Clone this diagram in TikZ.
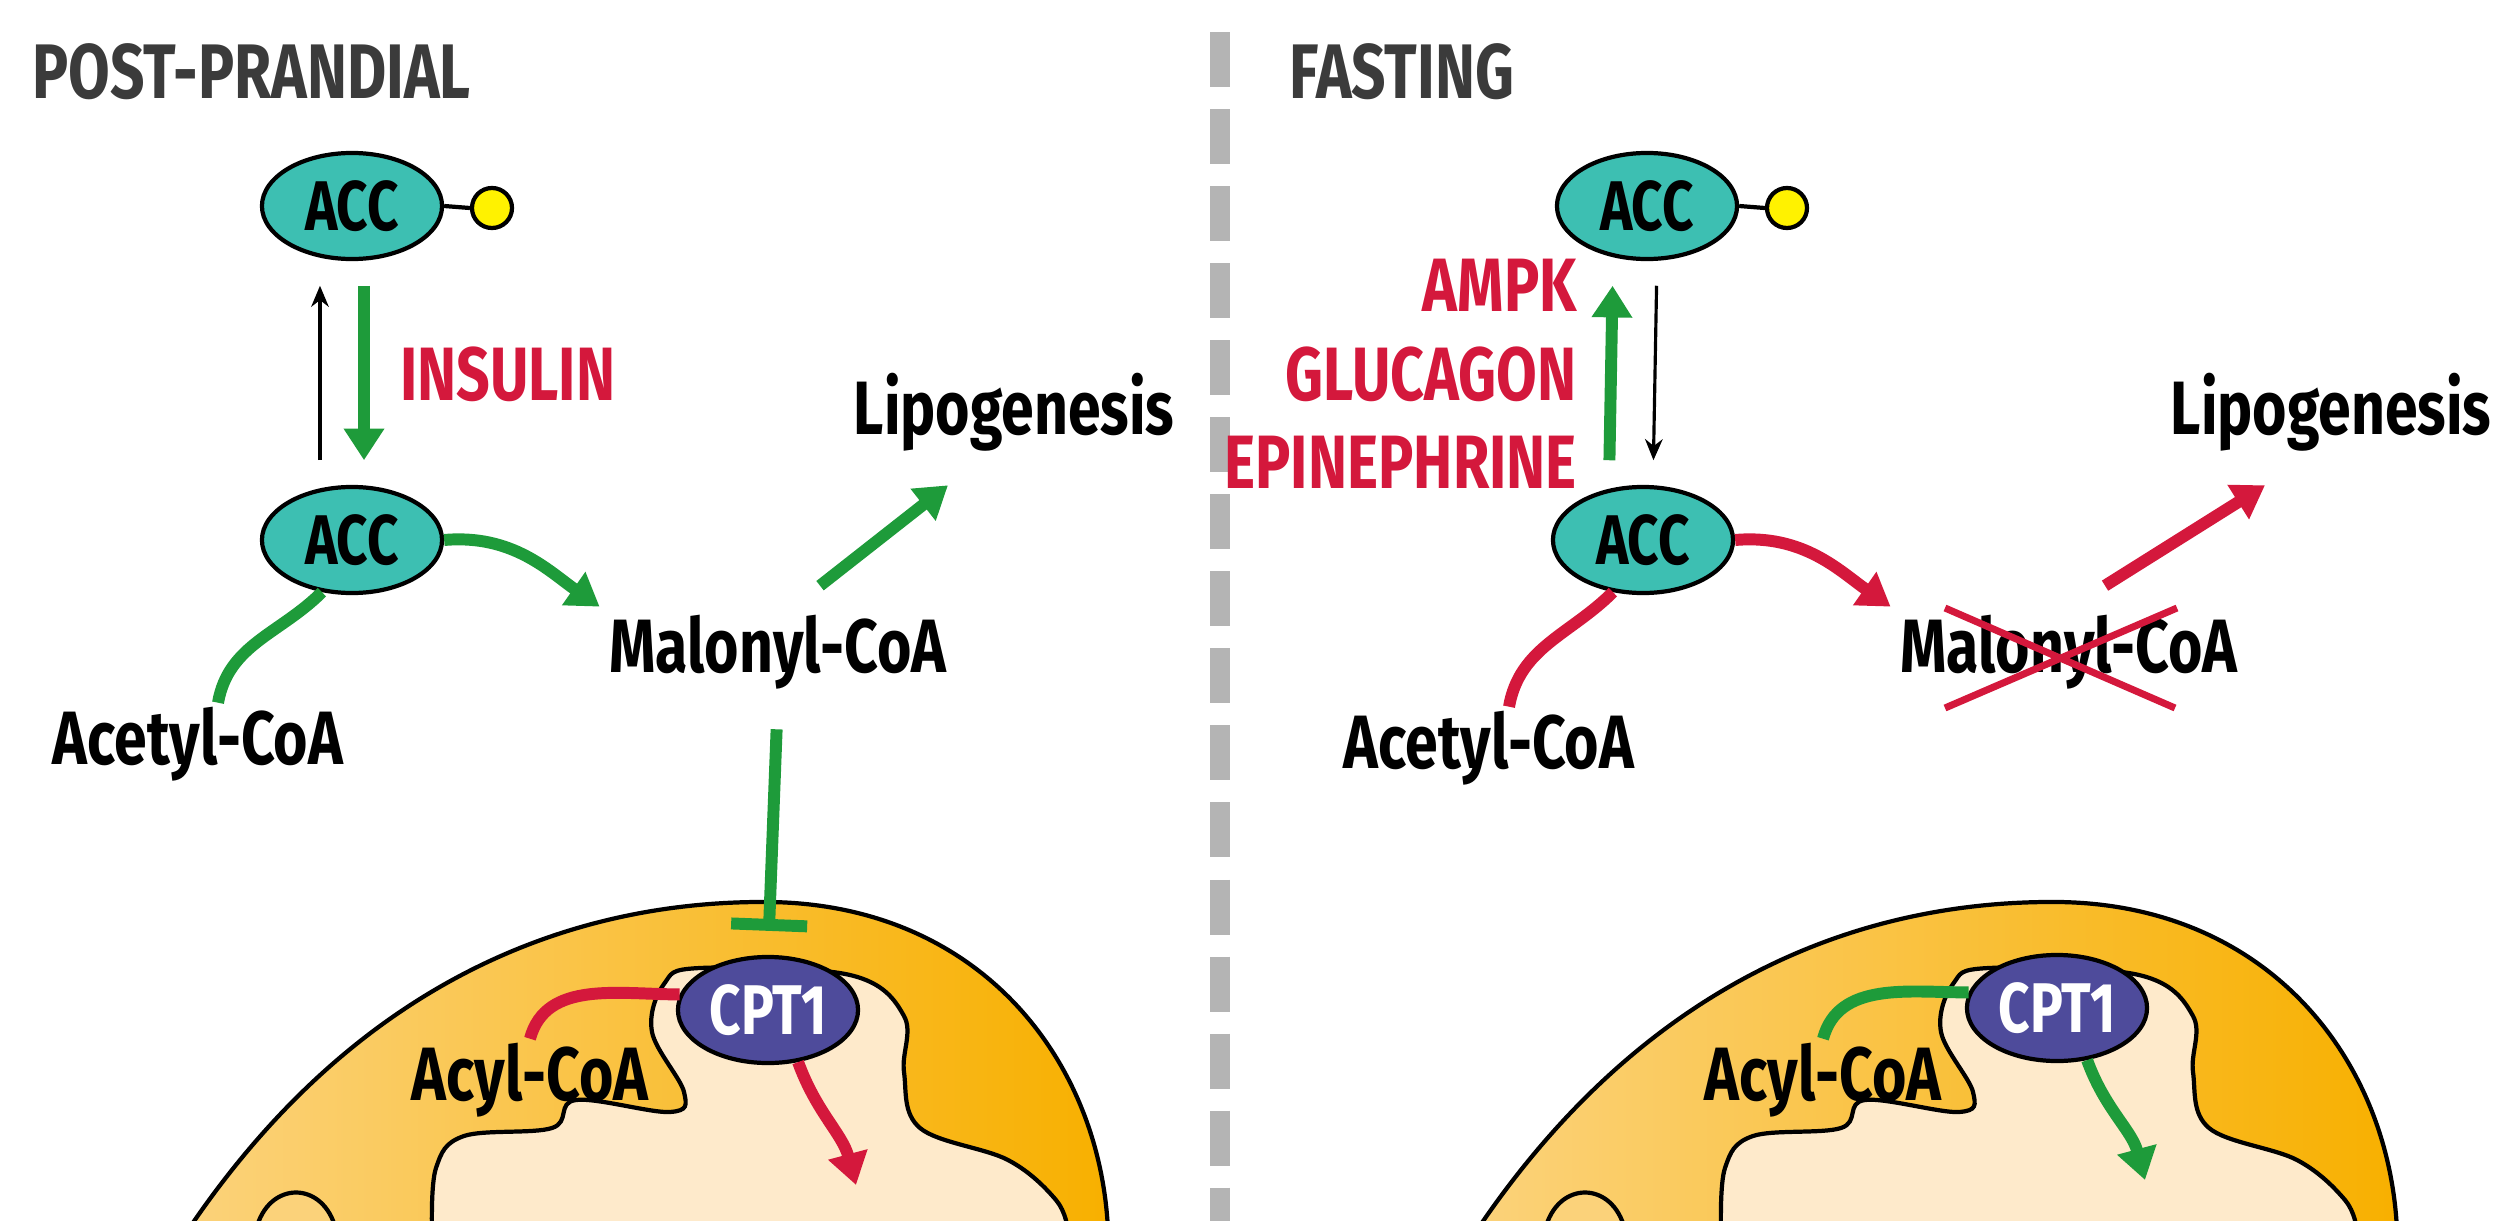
\documentclass[tikz,border=0pt]{standalone}
\usepackage{fontspec}
\setmainfont{Fira Sans}[FakeStretch=0.78]
\usetikzlibrary{shapes.geometric,arrows.meta}
\definecolor{accfill}{HTML}{3DBFB2}
\definecolor{cptfill}{HTML}{4E4B9B}
\definecolor{pgreen}{HTML}{1E9B3A}
\definecolor{pred}{HTML}{D4183C}
\definecolor{mitodark}{HTML}{F8B000}
\definecolor{mitolight}{HTML}{FBD27A}
\definecolor{mitomatrix}{HTML}{FEEACB}
\definecolor{titlegray}{HTML}{3B3B3B}
\definecolor{sepgray}{HTML}{B4B4B4}
\begin{document}
\begin{tikzpicture}
[
x=0.01cm, y=-0.01cm,
lbl/.style={font=\fontsize{21.5}{24}\selectfont\bfseries, inner sep=1pt},
reg/.style={lbl, text=pred},
heading/.style={font=\fontsize{22}{25}\selectfont\bfseries, text=titlegray, anchor=west, inner sep=0pt},
enzyme/.style={draw, line width=1.2pt, ellipse, fill=accfill, minimum width=1.8cm, minimum height=1.06cm, inner sep=0pt, font=\fontsize{20}{22}\selectfont\bfseries},
carrier/.style={enzyme, fill=cptfill, text=white},
phos/.style={draw, line width=1.2pt, circle, fill=yellow, minimum size=0.4cm, inner sep=0pt},
flow/.style={line width=3.4pt, -{Triangle[length=9pt,width=11pt]}},
gflow/.style={flow, draw=pgreen},
rflow/.style={flow, draw=pred},
gline/.style={line width=3.4pt, draw=pgreen},
rline/.style={line width=3.4pt, draw=pred},
thin/.style={line width=0.9pt, -{Stealth[length=6pt,width=5pt]}, shorten <=7pt, shorten >=7pt},
block/.style={line width=3.4pt, draw=pgreen, -{Bar[width=0.76cm,line width=3.4pt]}},
membrane/.style={draw=black, line width=1.2pt},
]
\useasboundingbox (0,0) rectangle (2517,1221);

%Mitochondria
\foreach \dx in {0,1289}{
\begin{scope}[xshift=\dx*0.01cm]
\shade[left color=mitolight, right color=mitodark, membrane] (188,1230) .. controls (350,990) and (560,900) .. (770,902) .. controls (980,905) and (1100,1060) .. (1108,1230) -- cycle;
\filldraw[fill=mitomatrix, membrane] plot[smooth, tension=0.6] coordinates {(432,1230) (436,1168) (464,1136) (552,1128) (576,1100) (670,1112) (684,1092) (652,1032) (664,984) (700,968) (850,975) (904,1016) (904,1072) (920,1128) (1008,1160) (1056,1200) (1068,1230)};
\filldraw[fill=mitolight, membrane] (256,1230) .. controls (268,1180) and (324,1180) .. (336,1230);
\end{scope}
}

%Separator
\draw[sepgray, line width=0.2cm, dash pattern=on 0.55cm off 0.22cm] (1220,32) -- (1220,1221);

%Post-prandial
\node[heading] (titleA) at (32,72) {POST-PRANDIAL};
\node[enzyme] (accA1) at (352,206) {ACC};
\node[phos] (pA) at (492,208) {};
\draw[line width=1.2pt] (accA1.east) -- (pA.west);
\node[enzyme] (accA2) at (352,540) {ACC};
\node[reg, anchor=west] (insulin) at (396,374) {INSULIN};
\node[lbl] (acetylA) at (198,744) {Acetyl-CoA};
\node[lbl] (malonylA) at (778,652) {Malonyl-CoA};
\node[lbl] (lipoA) at (1014,412) {Lipogenesis};
\node[carrier] (cptA) at (768,1010) {CPT1};
\node[lbl] (acylA) at (530,1080) {Acyl-CoA};
\draw[thin] ([xshift=-0.32cm]accA2.north) -- ([xshift=-0.32cm]accA1.south);
\draw[gflow, shorten <=7pt, shorten >=7pt] ([xshift=0.12cm]accA1.south) -- ([xshift=0.12cm]accA2.north);
\draw[gflow, shorten >=2pt] (accA2.east) to[out=5,in=145] (malonylA.north west);
\draw[gline] (accA2.240) to[out=225,in=80] ([xshift=0.2cm]acetylA.north);
\draw[gflow] ([xshift=0.42cm,yshift=0.25cm]malonylA.north) -- ([xshift=-0.66cm,yshift=-0.3cm]lipoA.south);
\draw[block, shorten <=0.36cm, shorten >=0.24cm] (malonylA.south) -- (cptA.north);
\draw[rline] (acylA.north) to[out=75,in=180] (cptA.170);
\coordinate (inA) at (856,1185);
\draw[rflow] (cptA.-60) to[out=-70,in=105] (inA);

%Fasting
\node[heading] (titleB) at (1289,72) {FASTING};
\node[enzyme] (accB1) at (1647,206) {ACC};
\node[phos] (pB) at (1787,208) {};
\draw[line width=1.2pt] (accB1.east) -- (pB.west);
\node[enzyme] (accB2) at (1643,540) {ACC};
\node[reg, anchor=east] (ampk) at (1581,285) {AMPK};
\node[reg, anchor=east] (glucagon) at (1581,374) {GLUCAGON};
\node[reg, anchor=east] (epi) at (1581,462) {EPINEPHRINE};
\node[lbl] (acetylB) at (1489,748) {Acetyl-CoA};
\node[lbl] (malonylB) at (2069,652) {Malonyl-CoA};
\node[lbl] (lipoB) at (2331,412) {Lipogenesis};
\node[carrier] (cptB) at (2057,1008) {CPT1};
\node[lbl] (acylB) at (1823,1080) {Acyl-CoA};
\draw[gflow, shorten <=7pt, shorten >=7pt] ([xshift=-0.34cm]accB2.north) -- ([xshift=-0.34cm]accB1.south);
\draw[thin] ([xshift=0.1cm]accB1.south) -- ([xshift=0.1cm]accB2.north);
\draw[rflow, shorten >=2pt] (accB2.east) to[out=5,in=145] (malonylB.north west);
\draw[rline] (accB2.240) to[out=225,in=80] ([xshift=0.2cm]acetylB.north);
\draw[rflow] ([xshift=0.36cm,yshift=0.25cm]malonylB.north) -- ([xshift=-0.66cm,yshift=-0.3cm]lipoB.south);
\draw[pred, line width=2pt] (1945,608) -- (2175,708) (1945,708) -- (2177,608);
\draw[gline] (acylB.north) to[out=75,in=180] (cptB.170);
\coordinate (inB) at (2145,1180);
\draw[gflow] (cptB.-60) to[out=-70,in=105] (inB);
\end{tikzpicture}
\end{document}
